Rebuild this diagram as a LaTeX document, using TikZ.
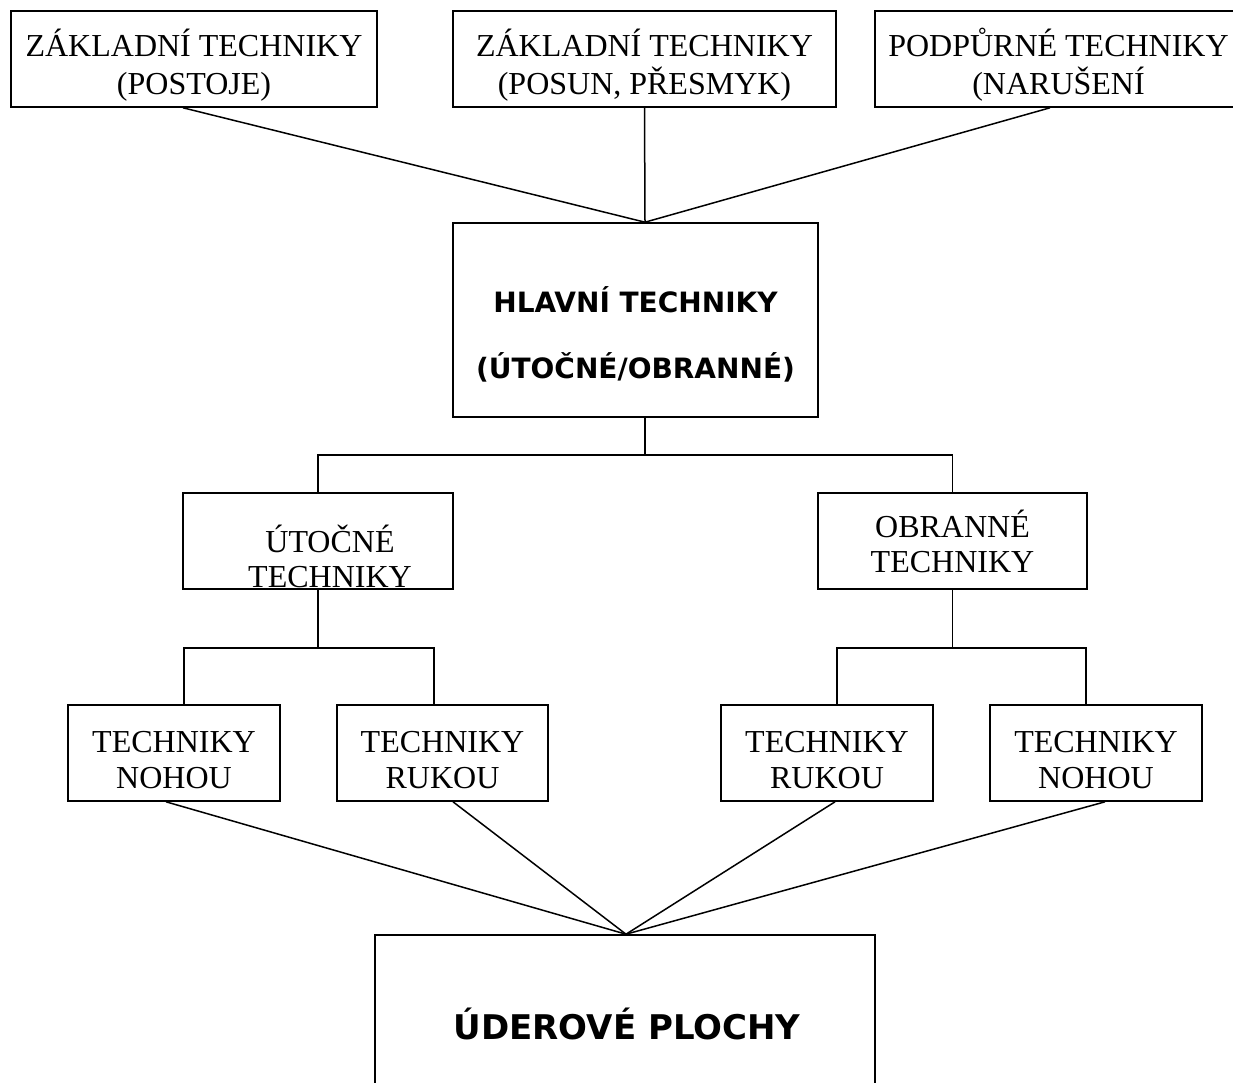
\documentclass[tikz,border=0pt]{standalone}
\usepackage{fontspec}
\setmainfont{Liberation Serif}
\newfontfamily\hlfont{DejaVu Sans}
\usepackage{tikz}
\usetikzlibrary{calc}

\begin{document}
\begin{tikzpicture}[x=1pt, y=-1pt,
            box/.style={draw=black, line width=1.6pt, minimum height=96pt, inner sep=0pt},
            txt/.style={align=center, inner sep=0pt, font=\fontsize{32}{36}\selectfont},
            toptxt/.style={txt, font=\fontsize{32}{38}\selectfont},
            hltxt/.style={align=center, inner sep=0pt, font=\hlfont\bfseries\fontsize{28}{66}\selectfont},
            link/.style={line width=1.5pt}]
            \useasboundingbox (0,0) rectangle (1233,1083);
            \clip (0,0) rectangle (1233,1083);
            % top row
            \node[box, minimum width=366pt] (zt1) at (194,59) {};
            \node[toptxt] (zt1t) at ($(zt1)+(0,6)$) {ZÁKLADNÍ TECHNIKY\\(POSTOJE)};
            \node[box, minimum width=383pt] (zt2) at (644.5,59) {};
            \node[toptxt] (zt2t) at ($(zt2)+(0,6)$) {ZÁKLADNÍ TECHNIKY\\(POSUN, PŘESMYK)};
            \node[box, minimum width=367pt] (pt) at (1058.5,59) {};
            \node[toptxt] (ptt) at ($(pt)+(0,6)$) {PODPŮRNÉ TECHNIKY\\(NARUŠENÍ};
            % main box
            \node[box, minimum width=365pt, minimum height=194pt] (main) at (635.5,320) {};
            \node[hltxt] (maint) at ($(main)+(0,14.5)$) {HLAVNÍ TECHNIKY\\(ÚTOČNÉ/OBRANNÉ)};
            % second level
            \node[box, minimum width=270pt] (ut) at (318,541) {};
            \node[txt, font=\fontsize{32}{35}\selectfont] (utt) at ($(ut)+(12,15.5)$) {ÚTOČNÉ\\TECHNIKY};
            \node[box, minimum width=269pt] (ob) at (952.5,541) {};
            \node[txt, font=\fontsize{32}{35}\selectfont] (obt) at ($(ob)+(0,0)$) {OBRANNÉ\\TECHNIKY};
            % third level
            \node[box, minimum width=212pt] (tn1) at (174,753) {};
            \node[txt] (tn1t) at ($(tn1)+(0,7)$) {TECHNIKY\\NOHOU};
            \node[box, minimum width=211pt] (tr1) at (442.5,753) {};
            \node[txt] (tr1t) at ($(tr1)+(0,7)$) {TECHNIKY\\RUKOU};
            \node[box, minimum width=212pt] (tr2) at (827,753) {};
            \node[txt] (tr2t) at ($(tr2)+(0,7)$) {TECHNIKY\\RUKOU};
            \node[box, minimum width=212pt] (tn2) at (1096,753) {};
            \node[txt] (tn2t) at ($(tn2)+(0,7)$) {TECHNIKY\\NOHOU};
            % bottom box
            \node[box, minimum width=500pt, minimum height=184pt] (up) at (625,1027) {};
            \node[inner sep=0pt, font=\hlfont\bfseries\fontsize{34}{40}\selectfont] (upt) at ($(up)+(2,-3)$) {ÚDEROVÉ PLOCHY};
            % connectors
            \coordinate (mtop) at ($(main.north)+(9.5,0)$);
            \draw[link] ([xshift=-11pt]zt1.south) -- (mtop);
            \draw[link] (zt2.south) -- (mtop);
            \draw[link] ([xshift=-8.5pt]pt.south) -- (mtop);
            \draw[link] ([xshift=9.5pt]main.south) -- ++(0,37) coordinate (msplit);
            \draw[link] (ut.north) |- (msplit) -| (ob.north);
            \draw[link] (ut.south) -- ++(0,58) coordinate (usplit);
            \draw[link] ([xshift=10pt]tn1.north) |- (usplit) -| ([xshift=-8.5pt]tr1.north);
            \draw[link] (ob.south) -- ++(0,58) coordinate (osplit);
            \draw[link] ([xshift=10pt]tr2.north) |- (osplit) -| ([xshift=-10pt]tn2.north);
            \coordinate (ptop) at ($(up.north)+(1,0)$);
            \foreach \n/\dx in {tn1/-8,tr1/10.5,tr2/8,tn2/9} {
                \draw[link] ([xshift=\dx pt]\n.south) -- (ptop);
            }
        \end{tikzpicture}
\end{document}
